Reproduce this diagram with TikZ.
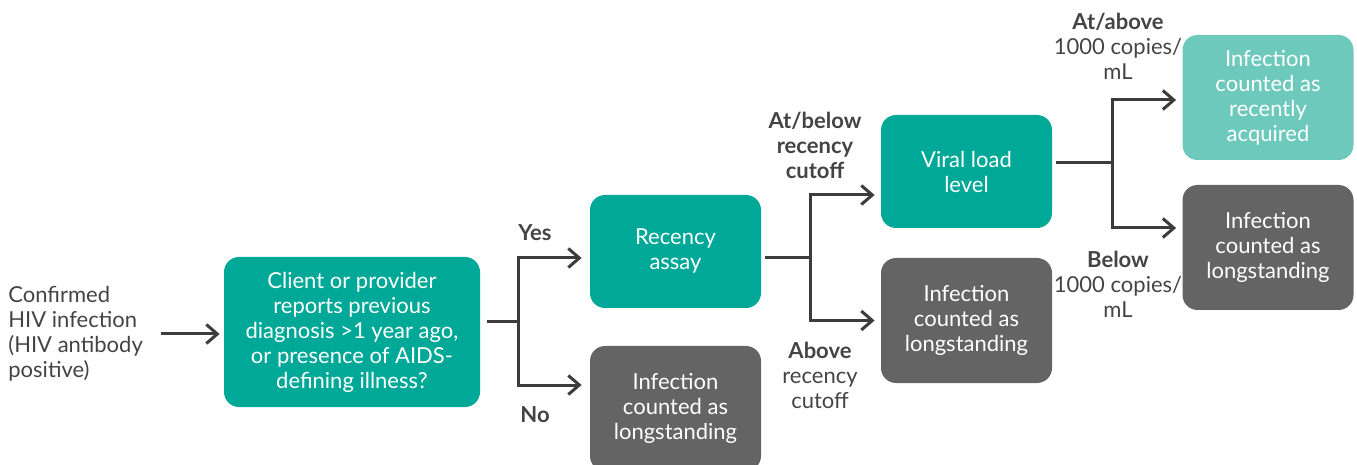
\documentclass[tikz,border=0pt]{standalone}
\usepackage{fontspec}
\setmainfont{Lato}
\usetikzlibrary{arrows.meta}
\definecolor{hivteal}{RGB}{0,168,151}
\definecolor{hivlight}{RGB}{110,201,189}
\definecolor{hivgrey}{RGB}{100,100,100}
\definecolor{hivtext}{RGB}{68,68,68}
\definecolor{hivline}{RGB}{60,60,60}
\begin{document}
\begin{tikzpicture}[x=0.5pt, y=-0.5pt,
  every node/.style={font=\fontsize{11}{12.5}\selectfont},
  box/.style={rounded corners=7.5pt, align=center, text=white, inner sep=0pt,
    minimum width=85.5pt, minimum height=56.5pt},
  lbl/.style={align=center, text=hivtext, inner sep=0pt},
  wire/.style={draw=hivline, line width=1.5pt},
  arr/.style={wire, -{Straight Barb[length=5.5pt, width=9.5pt]}}]
\useasboundingbox (0,0) rectangle (1357,465);
\clip (0,0) rectangle (1357,465);
\node[lbl, anchor=west, align=left] (in) at (8,334) {Confirmed\\HIV infection\\(HIV antibody\\positive)};
\node[box, fill=hivteal, minimum width=128pt, minimum height=75pt] (q) at (352,332) {Client or provider\\reports previous\\diagnosis >1 year ago,\\or presence of AIDS-\\defining illness?};
\node[box, fill=hivteal] (ra) at (675.5,251.5) {Recency\\assay};
\node[box, fill=hivgrey, minimum height=62.5pt] (ln) at (675.5,408.5) {Infection\\counted as\\longstanding};
\node[box, fill=hivteal] (vl) at (966.5,171.5) {Viral load\\level};
\node[box, fill=hivgrey, minimum height=62.5pt] (la) at (966.5,320.5) {Infection\\counted as\\longstanding};
\node[box, fill=hivlight, minimum height=62.5pt] (rc) at (1268,97.5) {Infection\\counted as\\recently\\acquired};
\node[box, fill=hivgrey, minimum height=62.5pt] (lb) at (1268,247.5) {Infection\\counted as\\longstanding};
% branch labels
\node[lbl, font=\fontsize{11}{12.5}\selectfont\bfseries] (yes) at (535,233) {Yes};
\node[lbl, font=\fontsize{11}{12.5}\selectfont\bfseries] (no) at (535,415) {No};
\node[lbl, font=\fontsize{11}{12.5}\selectfont\bfseries] (atb) at (815,145) {At/below\\recency\\cutoff};
\node[lbl] (abv) at (820,375) {{\bfseries Above}\\recency\\cutoff};
\node[lbl] (ata) at (1118,46) {{\bfseries At/above}\\1000 copies/\\mL};
\node[lbl] (blw) at (1118,284) {{\bfseries Below}\\1000 copies/\\mL};
% connectors
\coordinate (qj) at (518,322);
\coordinate (rj) at (810,258);
\coordinate (vj) at (1112,163);
\draw[arr, shorten <=9pt, shorten >=2pt] (in.east) -- (q.west |- in.east);
\draw[wire, shorten <=3.5pt] (q.east |- qj) -- (qj);
\draw[arr, shorten >=4pt] (qj) |- ([yshift=-3.25pt]ra.west);
\draw[arr, shorten >=4pt] (qj) |- ([yshift=11.75pt]ln.west);
\draw[wire, shorten <=2pt] (ra.east |- rj) -- (rj);
\draw[arr, shorten >=3pt] (rj) |- ([yshift=-11.75pt]vl.west);
\draw[arr, shorten >=3pt] (rj) |- (la.west);
\draw[wire, shorten <=2pt] (vl.east |- vj) -- (vj);
\draw[arr, shorten >=3pt] (vj) |- ([yshift=-1.25pt]rc.west);
\draw[arr, shorten >=3pt] (vj) |- ([yshift=9.75pt]lb.west);
\end{tikzpicture}
\end{document}
